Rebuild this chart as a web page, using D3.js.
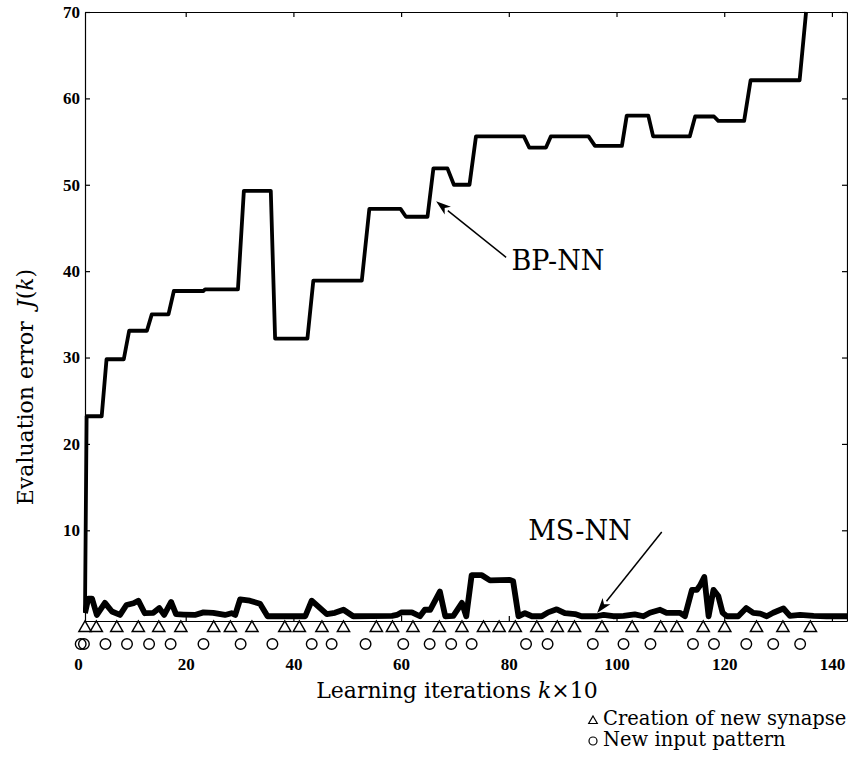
<!DOCTYPE html>
<html>
<head>
<meta charset="utf-8">
<script src="https://cdn.jsdelivr.net/npm/d3@7"></script>
<style>
  body { margin: 0; background: #fff; }
  .axis path, .axis line { stroke: #000; stroke-width: 1.2; }
  .axis text { font-family: "Liberation Serif", serif; font-weight: bold; font-size: 17px; fill: #000; }
</style>
</head>
<body>
<script>
// BP-NN evaluation error (step-like curve)
let bpIter = [1.3, 1.6, 4.4, 5.3, 8.5, 9.5, 12.8, 13.7, 16.8, 17.8, 23.3, 23.6, 29.7, 30.8, 35.8, 36.6,
  42.6, 43.7, 52.7, 54.1, 59.9, 60.9, 64.9, 66.0, 68.6, 69.8, 72.7, 73.9, 82.8, 83.8, 86.9, 87.8,
  94.8, 96.0, 101.0, 101.9, 105.9, 106.8, 113.6, 114.6, 118.1, 118.9, 123.7, 124.9, 134.0, 135.2];
let bpError = [0.6, 23.2, 23.2, 29.8, 29.8, 33.1, 33.1, 35.0, 35.0, 37.7, 37.7, 37.9, 37.9, 49.3, 49.3, 32.2,
  32.2, 38.9, 38.9, 47.2, 47.2, 46.3, 46.3, 51.9, 51.9, 50.0, 50.0, 55.6, 55.6, 54.3, 54.3, 55.6,
  55.6, 54.5, 54.5, 58.0, 58.0, 55.6, 55.6, 57.9, 57.9, 57.4, 57.4, 62.1, 62.1, 70];

// MS-NN evaluation error
let msIter = [1.3, 1.9, 2.6, 3.5, 5.0, 6.3, 7.8, 9.0, 10.3, 11.2, 12.4, 14.0, 15.1, 16.0, 17.3, 18.2,
  19.6, 21.7, 23.3, 25.1, 27.3, 28.5, 29.2, 30.1, 31.9, 33.8, 35.2, 42.2, 43.4, 46.2, 47.7, 49.3,
  51.1, 58.3, 59.2, 60.1, 62.0, 63.5, 64.4, 65.4, 67.2, 68.2, 69.7, 71.3, 72.1, 73.1, 75.0, 76.5,
  80.2, 80.8, 81.8, 83.0, 84.3, 86.1, 87.3, 88.9, 90.4, 92.3, 93.5, 96.3, 97.6, 99.4, 101.3, 103.4,
  105.0, 106.2, 108.1, 109.3, 111.8, 112.7, 114.0, 114.9, 115.5, 116.3, 117.1, 118.0, 118.9, 119.7,
  120.5, 122.6, 124.1, 125.4, 126.7, 127.9, 129.1, 131.0, 132.2, 134.1, 136.6, 139.0, 142.8];
let msError = [0.4, 2.1, 2.1, 0.2, 1.6, 0.6, 0.2, 1.35, 1.55, 1.85, 0.4, 0.45, 1.0, 0.2, 1.7, 0.3,
  0.25, 0.2, 0.5, 0.45, 0.2, 0.4, 0.2, 2.0, 1.85, 1.5, 0.05, 0.05, 1.85, 0.3, 0.45, 0.8,
  0.05, 0.1, 0.2, 0.5, 0.5, 0.05, 0.8, 0.8, 2.9, 0.05, 0.1, 1.6, 0.05, 4.8, 4.8, 4.2,
  4.25, 4.1, 0.05, 0.4, 0.05, 0.05, 0.5, 0.85, 0.4, 0.3, 0.05, 0.05, 0.2, 0.05, 0.1, 0.27,
  0.05, 0.45, 0.8, 0.45, 0.45, 0.05, 3.1, 3.1, 3.6, 4.6, 0.05, 3.1, 2.4, 0.45,
  0.05, 0.05, 1.0, 0.45, 0.35, 0.05, 0.45, 0.95, 0.1, 0.2, 0.1, 0.05, 0.05];

// event markers
let synapseIter = [1.3, 3.4, 7.2, 11.2, 15.0, 19.1, 25.2, 28.3, 32.3, 38.4, 41.1, 45.3, 49.3, 55.4, 58.4,
  62.2, 67.1, 71.3, 75.3, 78.2, 81.2, 85.2, 89.0, 92.2, 97.3, 102.9, 108.2, 111.2, 116.1, 120.1,
  126.0, 130.9, 136.0];
let patternIter = [0.5, 1.1, 5.1, 9.1, 13.2, 17.2, 23.3, 30.2, 36.1, 43.4, 47.1, 53.4, 60.4, 65.3, 69.3,
  73.1, 83.2, 87.2, 95.6, 101.3, 106.3, 114.2, 118.1, 124.1, 129.1, 134.1];

let xTicks = [0, 20, 40, 60, 80, 100, 120, 140];
let yTicks = [10, 20, 30, 40, 50, 60, 70];

let width = 848;
let height = 766;

let x = d3.scaleLinear().domain([1.3, 142.8]).range([85, 847]);
let y = d3.scaleLinear().domain([-0.5, 70]).range([621, 12]);
let base = y(-0.5);

let svg = d3.select("body").append("svg")
  .attr("width", width)
  .attr("height", height)
  .style("font-family", "'DejaVu Serif', serif");

svg.append("defs").append("clipPath").attr("id", "plot")
  .append("rect").attr("x", 83).attr("y", 10).attr("width", 766).attr("height", base - 10);

// frame and ticks
let bottomAxis = svg.append("g").attr("class", "axis")
  .attr("transform", `translate(0,${base})`)
  .call(d3.axisBottom(x).tickValues(xTicks).tickSizeInner(-5).tickSizeOuter(0).tickPadding(37));
bottomAxis.selectAll(".tick line").filter((d) => d === 0).remove();

svg.append("g").attr("class", "axis")
  .attr("transform", `translate(0,${y(70)})`)
  .call(d3.axisTop(x).tickValues(xTicks.slice(1)).tickSizeInner(-5).tickSizeOuter(0).tickFormat(""));

svg.append("g").attr("class", "axis")
  .attr("transform", `translate(${x.range()[0]},0)`)
  .call(d3.axisLeft(y).tickValues(yTicks).tickSizeInner(-5).tickSizeOuter(0).tickPadding(5));

svg.append("g").attr("class", "axis")
  .attr("transform", `translate(${x.range()[1]},0)`)
  .call(d3.axisRight(y).tickValues(yTicks).tickSizeInner(-5).tickSizeOuter(0).tickFormat(""));

// curves
let line = d3.line().x((d) => x(d[0])).y((d) => y(d[1]));
let lines = svg.append("g").attr("clip-path", "url(#plot)");

lines.append("path")
  .datum(d3.zip(bpIter, bpError))
  .attr("d", line)
  .attr("fill", "none")
  .attr("stroke", "#000")
  .attr("stroke-width", 3.8)
  .attr("stroke-linejoin", "round");

lines.append("path")
  .datum(d3.zip(msIter, msError))
  .attr("d", line)
  .attr("fill", "none")
  .attr("stroke", "#000")
  .attr("stroke-width", 5.8)
  .attr("stroke-linejoin", "round");

// markers below the axis
let tri = d3.symbol().type(d3.symbolTriangle).size(66);
svg.append("g").selectAll("path")
  .data(synapseIter)
  .enter()
  .append("path")
  .attr("d", tri)
  .attr("transform", (d) => `translate(${x(d)},${base + 7})`)
  .attr("fill", "none")
  .attr("stroke", "#000")
  .attr("stroke-width", 1.4);

svg.append("g").selectAll("circle")
  .data(patternIter)
  .enter()
  .append("circle")
  .attr("cx", (d) => x(d))
  .attr("cy", base + 23)
  .attr("r", 5.3)
  .attr("fill", "none")
  .attr("stroke", "#000")
  .attr("stroke-width", 1.4);

// annotations
function arrow(x1, y1, x2, y2) {
  let ang = Math.atan2(y2 - y1, x2 - x1);
  let len = 15, half = 5;
  let bx = x2 - len * Math.cos(ang), by = y2 - len * Math.sin(ang);
  svg.append("line")
    .attr("x1", x1).attr("y1", y1).attr("x2", bx).attr("y2", by)
    .attr("stroke", "#000").attr("stroke-width", 1.5);
  let px = -Math.sin(ang) * half, py = Math.cos(ang) * half;
  svg.append("path")
    .attr("d", `M${x2},${y2}L${bx + px},${by + py}L${bx + 4 * Math.cos(ang)},${by + 4 * Math.sin(ang)}L${bx - px},${by - py}Z`)
    .attr("fill", "#000");
}

arrow(x(79.5), y(41.6), x(66.5), y(48.1));
svg.append("text").attr("x", x(80.5)).attr("y", y(40.1))
  .attr("font-size", 27).text("BP-NN");

arrow(x(108.4), y(9.8), x(96.4), y(0.43));
svg.append("text").attr("x", x(83.6)).attr("y", y(8.9))
  .attr("font-size", 27).text("MS-NN");

// axis titles
let xt = svg.append("text")
  .attr("x", 457).attr("y", 698)
  .attr("text-anchor", "middle")
  .attr("font-size", 22);
xt.append("tspan").text("Learning iterations ");
xt.append("tspan").attr("font-style", "italic").text("k");
xt.append("tspan").text("×10");

let yt = svg.append("text")
  .attr("transform", "translate(33,387) rotate(-90)")
  .attr("text-anchor", "middle")
  .attr("font-size", 22);
yt.append("tspan").text("Evaluation error ");
yt.append("tspan").attr("dx", 6).attr("font-style", "italic").text("J");
yt.append("tspan").text("(");
yt.append("tspan").attr("font-style", "italic").text("k");
yt.append("tspan").text(")");

// legend
let legend = svg.append("g");
legend.append("path")
  .attr("d", d3.symbol().type(d3.symbolTriangle).size(32))
  .attr("transform", "translate(593,721)")
  .attr("fill", "none").attr("stroke", "#000").attr("stroke-width", 1.2);
legend.append("circle")
  .attr("cx", 593).attr("cy", 741).attr("r", 4)
  .attr("fill", "none").attr("stroke", "#000").attr("stroke-width", 1.2);
legend.append("text").attr("x", 603).attr("y", 725).attr("font-size", 19.5).text("Creation of new synapse");
legend.append("text").attr("x", 603).attr("y", 746).attr("font-size", 19.5).text("New input pattern");
</script>
</body>
</html>
